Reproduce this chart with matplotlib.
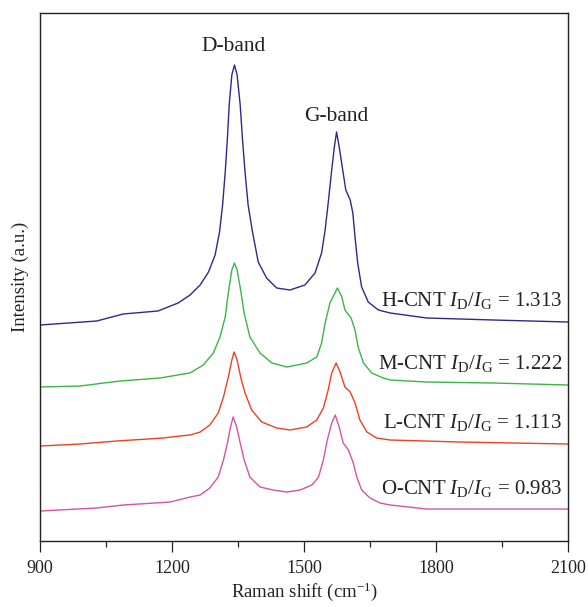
import matplotlib
matplotlib.use("Agg")
import matplotlib.pyplot as plt
from matplotlib.ticker import MultipleLocator

plt.rcParams["font.family"] = ["Liberation Serif", "DejaVu Serif"]
plt.rcParams["mathtext.fontset"] = "custom"
plt.rcParams["mathtext.rm"] = "Liberation Serif"
plt.rcParams["mathtext.it"] = "Liberation Serif:italic"

# Raman spectra, already vertically offset (arbitrary units)
h_x = [900, 1029, 1089, 1168, 1214, 1241, 1264, 1283, 1298, 1308, 1315, 1321,
       1326, 1330, 1336, 1342, 1348, 1355, 1360, 1366, 1373, 1383, 1396, 1415,
       1438, 1468, 1502, 1525, 1540, 1548, 1555, 1563, 1569, 1574, 1580, 1588,
       1595, 1605, 1611, 1616, 1622, 1631, 1646, 1669, 1696, 1779, 1930, 2100]
h_y = [216, 220, 227, 230, 238, 246, 256, 269, 286, 309, 336, 369,
       403, 436, 466, 476, 466, 436, 403, 369, 336, 309, 279, 263,
       253, 251, 256, 268, 288, 311, 338, 371, 394, 409, 394, 371,
       351, 341, 328, 304, 278, 254, 239, 231, 228, 223, 221, 219]

m_x = [900, 991, 1082, 1173, 1226, 1241, 1271, 1294, 1309, 1321, 1328, 1336,
       1342, 1348, 1356, 1364, 1377, 1400, 1427, 1461, 1506, 1529, 1540, 1548,
       1559, 1576, 1586, 1593, 1607, 1616, 1623, 1635, 1654, 1680, 1696, 1779,
       1930, 2100]
m_y = [154, 155, 160, 163, 167, 168, 176, 188, 204, 224, 248, 271,
       278, 271, 251, 228, 204, 188, 178, 174, 178, 184, 198, 218,
       238, 253, 244, 231, 223, 211, 194, 178, 168, 163, 161, 159,
       158, 156]

l_x = [900, 991, 1074, 1180, 1218, 1241, 1264, 1286, 1305, 1317, 1328, 1336,
       1341, 1348, 1356, 1366, 1381, 1404, 1438, 1468, 1506, 1529, 1544, 1555,
       1563, 1573, 1582, 1593, 1605, 1616, 1627, 1643, 1665, 1696, 1855, 2100]
l_y = [95, 97, 100, 103, 105, 106, 109, 116, 128, 144, 164, 181,
       189, 181, 164, 148, 131, 119, 113, 111, 114, 121, 133, 151,
       168, 178, 169, 154, 149, 138, 121, 109, 103, 101, 99, 97]

o_x = [900, 1029, 1089, 1196, 1241, 1264, 1286, 1305, 1317, 1326, 1333, 1339,
       1347, 1355, 1364, 1377, 1400, 1430, 1461, 1491, 1518, 1533, 1544, 1553,
       1563, 1571, 1580, 1589, 1601, 1612, 1620, 1631, 1650, 1673, 1696, 1779,
       2100]
o_y = [30, 33, 36, 39, 44, 46, 53, 64, 81, 98, 114, 124,
       114, 98, 81, 64, 54, 51, 49, 51, 56, 64, 81, 101,
       118, 126, 114, 98, 91, 78, 64, 51, 43, 38, 36, 32,
       32]

samples = ["H-CNT", "M-CNT", "L-CNT", "O-CNT"]
ratios = [1.313, 1.222, 1.113, 0.983]
colors = ["#2e2a88", "#3cb44a", "#ec4125", "#d354a8"]
label_y = [241, 178, 119, 53]

fig = plt.figure(figsize=(5.88, 6.07), dpi=100)
ax = fig.add_axes([0.068, 0.1087, 0.898, 0.8699])

for xs, ys, c in zip([h_x, m_x, l_x, o_x], [h_y, m_y, l_y, o_y], colors):
    ax.plot(xs, ys, color=c, linewidth=1.0)

for name, r, y in zip(samples, ratios, label_y):
    ax.text(2086, y,
            name + r" $I_{\mathrm{D}}/I_{\mathrm{G}}$" + " = {:.3f}".format(r),
            ha="right", va="center", fontsize=15, color="#222222")

ax.text(1341, 494, "D-band", ha="center", va="center", fontsize=15.5, color="#222222")
ax.text(1574, 424, "G-band", ha="center", va="center", fontsize=15.5, color="#222222")

ax.set_xlim(900, 2100)
ax.set_ylim(0, 528)
ax.xaxis.set_major_locator(MultipleLocator(300))
ax.xaxis.set_minor_locator(MultipleLocator(150))
ax.set_yticks([])
ax.tick_params(axis="x", which="major", direction="out", length=8, width=0.9,
               labelsize=13, colors="#222222", pad=6)
ax.tick_params(axis="x", which="minor", direction="out", length=4.5, width=0.9,
               colors="#222222")

for s in ax.spines.values():
    s.set_linewidth(1.0)
    s.set_color("#222222")

ax.set_xlabel(r"Raman shift (cm$^{-1}$)", fontsize=13.5, color="#222222", labelpad=2)
ax.set_ylabel("Intensity (a.u.)", fontsize=13.5, color="#222222", labelpad=8)

fig.savefig("out.png", dpi=100)
